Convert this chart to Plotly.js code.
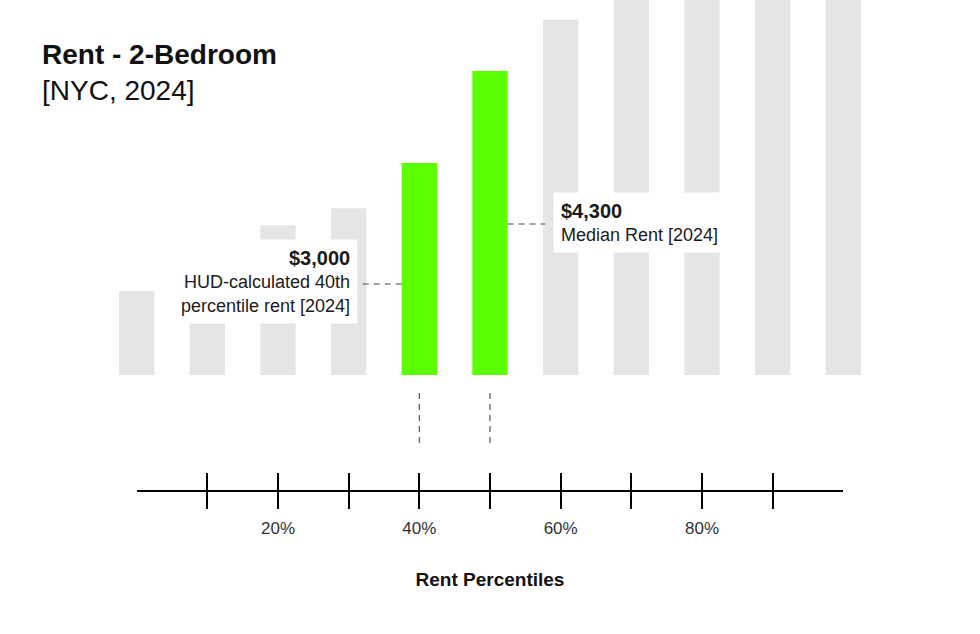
<!DOCTYPE html>
<html>
<head>
<meta charset="utf-8">
<script src="https://cdn.plot.ly/plotly-3.0.1.min.js"></script>
<style>
  html, body { margin: 0; padding: 0; background: #fff; }
  #chart { width: 980px; height: 634px; }
</style>
</head>
<body>
<div id="chart"></div>
<script>
// ---- data ----
const percentiles = [0, 10, 20, 30, 40, 50, 60, 70, 80, 90, 100];
const rents = [1190, 1750, 2120, 2360, 3000, 4300, 5030, 5900, 6800, 8000, 10500];
const highlighted = [40, 50];
const tickValues = [10, 20, 30, 40, 50, 60, 70, 80, 90];
const tickLabels = ['', '20%', '', '40%', '', '60%', '', '80%', ''];
const hudPercentile = 40;
const medianPercentile = 50;

// ---- styles ----
const FONT = '"Liberation Sans", Arial, Helvetica, sans-serif';
const GRAY = '#e5e5e5';
const GREEN = '#5cff00';
const BAR_W = 5;

const rentAt = p => rents[percentiles.indexOf(p)];
const fmt = v => '$' + v.toLocaleString('en-US');
const colors = percentiles.map(p => highlighted.includes(p) ? GREEN : GRAY);

const bars = {
  type: 'bar', x: percentiles, y: rents, width: BAR_W,
  marker: { color: colors, line: { width: 0 } },
  xaxis: 'x', yaxis: 'y', hoverinfo: 'skip', showlegend: false
};
// invisible companions so that the drawn percentile axes exist
const ghost2 = { type: 'scatter', mode: 'markers', x: percentiles, y: rents, xaxis: 'x2', yaxis: 'y',
  marker: { opacity: 0 }, hoverinfo: 'skip', showlegend: false };
const ghost3 = Object.assign({}, ghost2, { xaxis: 'x3' });

const W = 980, ML = 119, MR = 119;
const plotW = W - ML - MR;
const xMin = -2.5, xMax = 102.5;
const pxPerUnit = plotW / (xMax - xMin);
const d0 = (0 - xMin) * pxPerUnit / plotW;
const d1 = (100 - xMin) * pxPerUnit / plotW;

const axisCommon = {
  domain: [d0, d1], anchor: 'y', range: [0, 100],
  tickmode: 'array', tickvals: tickValues, ticktext: tickLabels,
  ticklen: 17, tickwidth: 2, tickcolor: '#000',
  showgrid: false, zeroline: false, fixedrange: true
};

const dashLine = { color: '#444', width: 1.1, dash: '6px,5px' };
const guideTop = -255, guideBottom = -990;
const hudLeaderY = 1288, medLeaderY = 2137;

const shapes = [
  { type: 'line', xref: 'x', yref: 'y', x0: hudPercentile, x1: hudPercentile, y0: guideTop, y1: guideBottom, line: dashLine, layer: 'above' },
  { type: 'line', xref: 'x', yref: 'y', x0: medianPercentile, x1: medianPercentile, y0: guideTop, y1: guideBottom, line: dashLine, layer: 'above' },
  { type: 'line', xref: 'x', yref: 'y', x0: hudPercentile - BAR_W / 2 - 5.5, x1: hudPercentile - BAR_W / 2, y0: hudLeaderY, y1: hudLeaderY, line: dashLine, layer: 'above' },
  { type: 'line', xref: 'x', yref: 'y', x0: medianPercentile + BAR_W / 2, x1: medianPercentile + BAR_W / 2 + 5.3, y0: medLeaderY, y1: medLeaderY, line: dashLine, layer: 'above' }
];

const big = s => '<span style="font-size:20px"><b>' + s + '</b></span>';
const annotations = [
  { xref: 'x', yref: 'y', x: 31.3, y: 1323, xanchor: 'right', yanchor: 'middle', align: 'right',
    text: big(fmt(rentAt(hudPercentile))) + '<br>HUD-calculated 40th<br>percentile rent [2024]',
    showarrow: false, bgcolor: '#ffffff', borderpad: 7,
    font: { family: FONT, size: 18, color: '#1a1a1a' } },
  { xref: 'x', yref: 'y', x: 58.9, y: 2151, xanchor: 'left', yanchor: 'middle', align: 'left',
    text: big(fmt(rentAt(medianPercentile))) + '<br>Median Rent [2024]',
    showarrow: false, bgcolor: '#ffffff', borderpad: 7,
    font: { family: FONT, size: 18, color: '#1a1a1a' } }
];

const layout = {
  width: 980, height: 634,
  margin: { l: ML, r: MR, t: 0, b: 144, pad: 0 },
  paper_bgcolor: '#fff', plot_bgcolor: 'rgba(0,0,0,0)',
  showlegend: false,
  title: {
    text: '<b>Rent - 2-Bedroom</b><br>[NYC, 2024]',
    xref: 'container', yref: 'container',
    x: 42 / 980, xanchor: 'left', y: 1 - 64 / 634, yanchor: 'top',
    font: { family: FONT, size: 28, color: '#111' }
  },
  xaxis: { range: [xMin, xMax], visible: false, fixedrange: true },
  xaxis2: Object.assign({}, axisCommon, {
    ticks: 'outside', showline: true, linewidth: 2, linecolor: '#000',
    showticklabels: true, ticklabelstandoff: 5,
    tickfont: { family: FONT, size: 17, color: '#333' },
    title: { text: '<b>Rent Percentiles</b>', standoff: 35, font: { family: FONT, size: 19, color: '#111' } }
  }),
  xaxis3: Object.assign({}, axisCommon, {
    ticks: 'inside', showline: false, showticklabels: false
  }),
  yaxis: { range: [-1627, 5306], visible: false, fixedrange: true },
  shapes: shapes,
  annotations: annotations
};

Plotly.newPlot('chart', [bars, ghost2, ghost3], layout, { displayModeBar: false, staticPlot: true });
</script>
</body>
</html>
